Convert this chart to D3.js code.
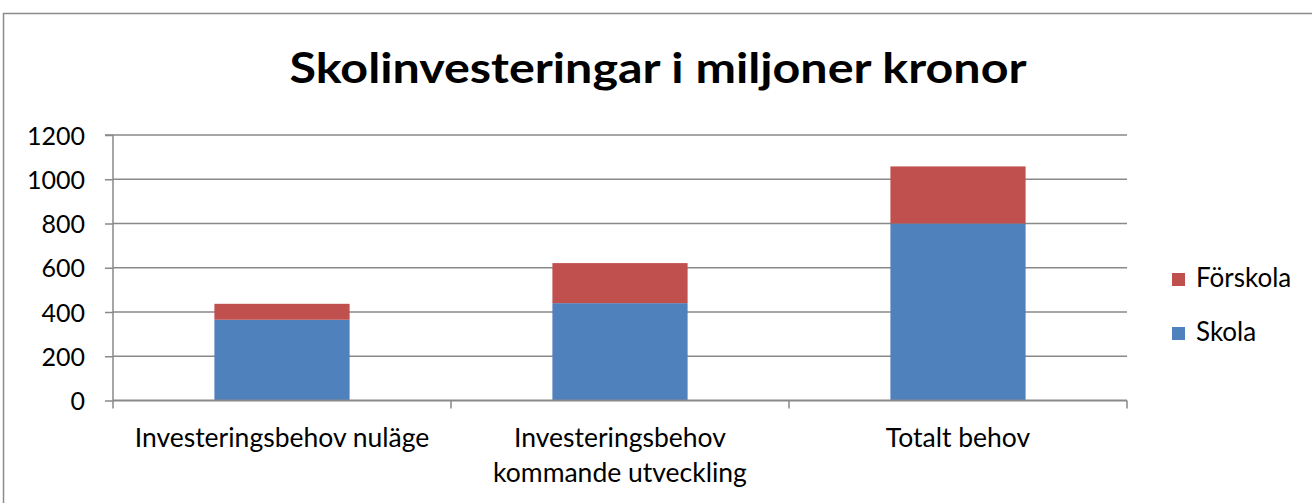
<!DOCTYPE html>
<html>
<head>
<meta charset="utf-8">
<script src="https://cdn.jsdelivr.net/npm/d3@7"></script>
<style>
  html, body { margin: 0; padding: 0; background: #fff; }
  svg { display: block; }
  text { font-family: Lato, "Open Sans", "Liberation Sans", sans-serif; fill: #000; }
</style>
</head>
<body>
<svg id="chart" width="1312" height="503"></svg>
<script>
const title = "Skolinvesteringar i miljoner kronor";
const categories = [["Investeringsbehov nuläge"], ["Investeringsbehov", "kommande utveckling"], ["Totalt behov"]];
const seriesNames = ["Skola", "Förskola"];
const skola = [365, 440, 800];
const forskola = [72, 181, 258];
const yTicks = [0, 200, 400, 600, 800, 1000, 1200];
const colors = ["#4F81BD", "#C0504D"];

(function () {
const svg = d3.select("#chart");
const W = 1312, H = 503;
const pLeft = 113, pRight = 1127, pTop = 135, pBottom = 400.5;
const gridColor = "#898989";

svg.append("rect").attr("width", W).attr("height", H).attr("fill", "#fff");
// chart outer border (extends beyond the picture on right and bottom)
svg.append("rect").attr("x", 3.5).attr("y", 13.5).attr("width", W + 20).attr("height", H + 20)
  .attr("fill", "none").attr("stroke", "#8c8c8c").attr("stroke-width", 1.5);

const keys = categories.map(c => c.join(" "));
const x = d3.scaleBand().domain(keys).range([pLeft, pRight]).paddingInner(0.6).paddingOuter(0.3);
const y = d3.scaleLinear().domain([0, 1200]).range([pBottom, pTop]);

// gridlines
svg.append("g").selectAll("line").data(yTicks.filter(t => t > 0)).join("line")
  .attr("x1", pLeft).attr("x2", pRight)
  .attr("y1", d => y(d)).attr("y2", d => y(d))
  .attr("stroke", gridColor).attr("stroke-width", 1.5);

// stacked bars
const rows = keys.map((k, i) => ({ key: k, Skola: skola[i], "Förskola": forskola[i] }));
const stack = d3.stack().keys(seriesNames)(rows);
svg.append("g").selectAll("g").data(stack).join("g")
  .attr("fill", (d, i) => colors[i])
  .selectAll("rect").data(d => d).join("rect")
  .attr("x", d => x(d.data.key))
  .attr("width", x.bandwidth())
  .attr("y", d => y(d[1]))
  .attr("height", d => y(d[0]) - y(d[1]));

// y axis
const yAxis = d3.axisLeft(y).tickValues(yTicks).tickFormat(d3.format("d")).tickSize(8).tickPadding(20);
const gy = svg.append("g").attr("transform", `translate(${pLeft},0)`).call(yAxis);
gy.select(".domain").attr("stroke", gridColor).attr("stroke-width", 1.5).attr("d", `M-8,${pTop}H0V${pBottom}`);
gy.selectAll(".tick line").attr("stroke", gridColor).attr("stroke-width", 1.5);
gy.selectAll(".tick text").attr("font-size", 25).attr("font-family", "Lato, 'Open Sans', sans-serif").attr("fill", "#000").attr("dy", "0.36em");

// x axis line & ticks (between categories)
svg.append("line").attr("x1", pLeft).attr("x2", pRight).attr("y1", pBottom).attr("y2", pBottom)
  .attr("stroke", gridColor).attr("stroke-width", 2);
const bnds = d3.range(keys.length + 1).map(i => pLeft + i * x.step());
svg.append("g").selectAll("line").data(bnds).join("line")
  .attr("x1", d => d).attr("x2", d => d).attr("y1", pBottom).attr("y2", pBottom + 8)
  .attr("stroke", gridColor).attr("stroke-width", 1.5);

// category labels
const catG = svg.append("g");
categories.forEach((lines, i) => {
  const cx = x(keys[i]) + x.bandwidth() / 2;
  const t = catG.append("text").attr("text-anchor", "middle").attr("font-size", 26.5);
  lines.forEach((ln, j) => {
    t.append("tspan").attr("x", cx).attr("y", 447 + j * 35).text(ln);
  });
});

// title
svg.append("text").attr("x", 658).attr("y", 83).attr("text-anchor", "middle")
  .attr("font-size", 42).attr("font-weight", 700)
  .attr("textLength", 737).attr("lengthAdjust", "spacingAndGlyphs")
  .text(title);

// legend (Förskola on top)
const legendItems = [{ name: "Förskola", color: colors[1] }, { name: "Skola", color: colors[0] }];
const lg = svg.append("g");
legendItems.forEach((d, i) => {
  const yy = 273 + i * 54;
  lg.append("rect").attr("x", 1172).attr("y", yy).attr("width", 13).attr("height", 13).attr("fill", d.color);
  lg.append("text").attr("x", 1196).attr("y", yy + 14).attr("font-size", 26).text(d.name);
});
})();
</script>
</body>
</html>
